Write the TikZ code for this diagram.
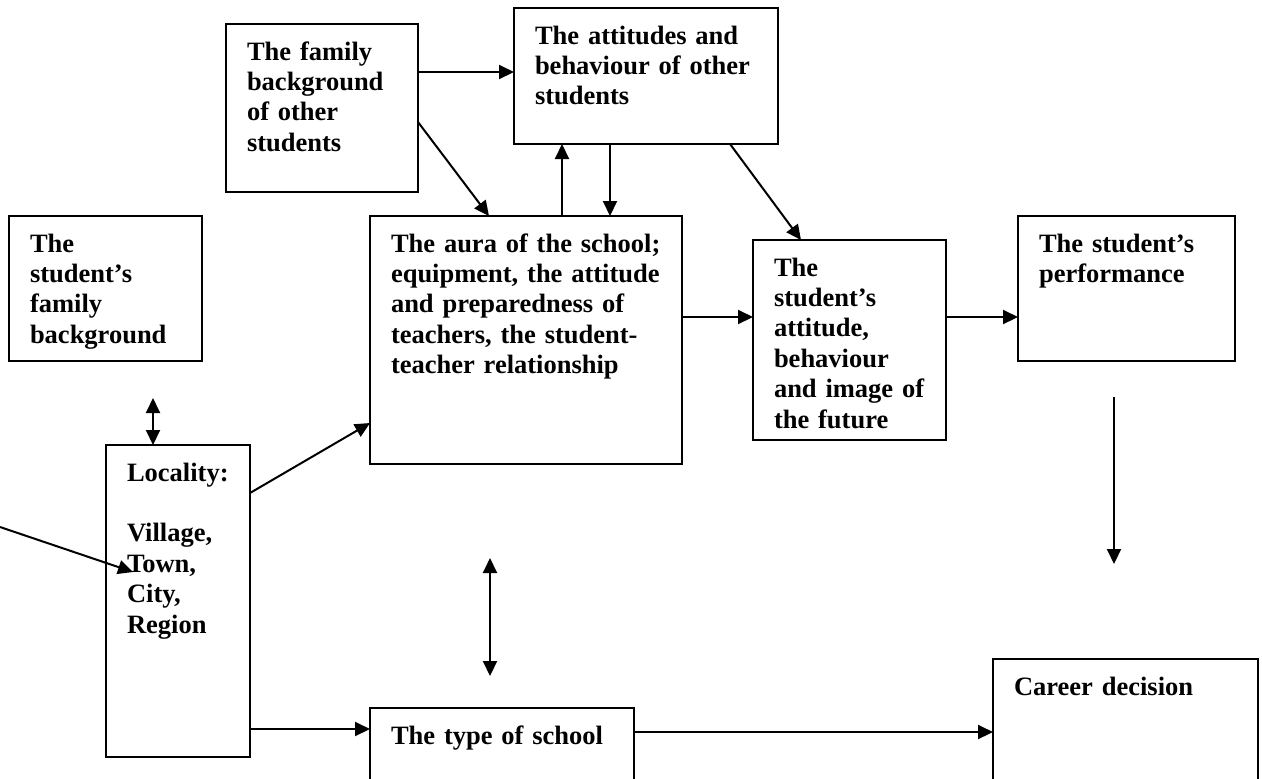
\documentclass[tikz,border=0pt]{standalone}
\usepackage{fontspec}
\setmainfont{Liberation Serif}[WordSpace=0.77]
\usetikzlibrary{arrows.meta}

\begin{document}
\begin{tikzpicture}[x=0.5pt,y=-0.5pt,>={Triangle[length=7.5pt,width=7pt]},
  box/.style={draw,line width=1pt,anchor=north west,outer sep=0pt,
    inner xsep=10.5pt,inner ysep=0pt,text height=18pt,align=left,
    font=\fontsize{13.25pt}{15.2pt}\selectfont\bfseries}]
  \useasboundingbox[fill=white] (0,0) rectangle (1262,778);
  \clip (0,0) rectangle (1262,778);

  \node[box,text width=75pt,text depth=66pt]      (famother) at (226,24)  {The family\\background\\of other\\students};
  \node[box,text width=111pt,text depth=50pt]     (attother) at (514,8)   {The attitudes and\\behaviour of other\\students};
  \node[box,text width=75.5pt,text depth=54.5pt]  (ownfam)   at (9,216)   {The\\student’s\\family\\background};
  \node[box,text width=135pt,text depth=106pt]    (aura)     at (370,216) {The aura of the school;\\equipment, the attitude\\and preparedness of\\teachers, the student-\\teacher relationship};
  \node[box,text width=75.5pt,text depth=82pt]    (attstud)  at (753,240) {The\\student’s\\attitude,\\behaviour\\and image of\\the future};
  \node[box,text width=87.5pt,text depth=54.5pt]  (perf)     at (1018,216) {The student’s\\performance};
  \node[box,text width=51pt,text depth=138pt]     (locality) at (106,445) {Locality:\\[15.2pt]Village,\\Town,\\City,\\Region};
  \node[box,text width=111pt,text depth=32pt]     (type)     at (370,708) {The type of school};
  \node[box,text width=111.5pt,text depth=47pt]   (career)   at (993,659) {Career decision};

  % loose ends
  \coordinate (outside)   at (0,527);
  \coordinate (intown)    at (133,572);
  \coordinate (famlink)   at (153,398);
  \coordinate (auralink)  at (490,558);
  \coordinate (typelink)  at (490,676);
  \coordinate (perfdown)  at (1114,397);
  \coordinate (careerup)  at (1114,564);

\tikzset{link/.style={->,line width=1pt}}
\tikzset{twoway/.style={<->,line width=1pt}}
\path (famother.east |- 0,72)   edge [link] (attother.west |- 0,72)
      (famother.east |- 0,122)  edge [link] (aura.north -| 489,0)
      (aura.north -| 562,0)     edge [link] (attother.south -| 562,0)
      (attother.south -| 610,0) edge [link] (aura.north -| 610,0)
      (attother.south -| 730,0) edge [link] (attstud.north -| 801,0)
      (aura.east |- 0,317)      edge [link] (attstud.west |- 0,317)
      (attstud.east |- 0,317)   edge [link] (perf.west |- 0,317)
      (locality.east |- 0,493)  edge [link] (aura.west |- 0,423)
      (locality.east |- 0,729)  edge [link] (type.west |- 0,729)
      (type.east |- 0,732)      edge [link] (career.west |- 0,732)
      (famlink)                 edge [twoway] (locality.north -| famlink)
      (auralink)                edge [twoway] (typelink)
      (outside)                 edge [link] (intown)
      (perfdown)                edge [link] (careerup);
\end{tikzpicture}
\end{document}
